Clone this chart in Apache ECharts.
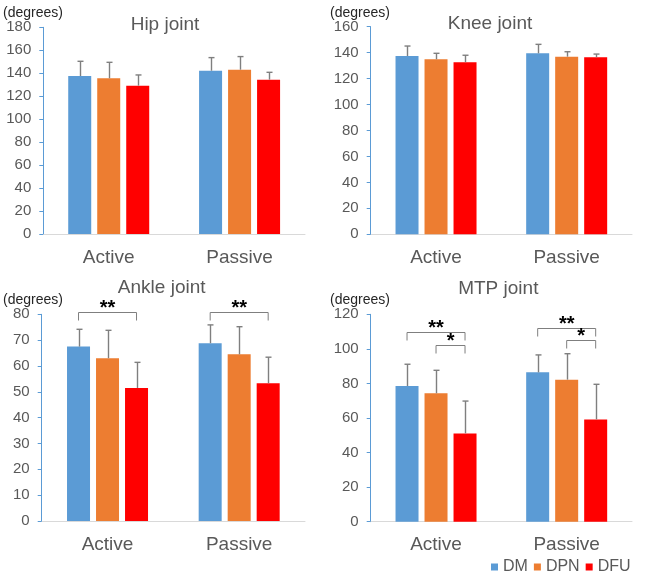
<!DOCTYPE html>
<html><head><meta charset="utf-8">
<script src="https://cdn.jsdelivr.net/npm/echarts@6/dist/echarts.min.js"></script>
<style>html,body{margin:0;padding:0;background:#fff}#c{width:645px;height:577px}</style>
</head><body><div id="c"></div>
<script>
// ---------- data ----------
const categories = ['Active', 'Passive'];
const groups = ['DM', 'DPN', 'DFU'];
const panelTitles = ['Hip joint', 'Knee joint', 'Ankle joint', 'MTP joint'];
const yUnit = '(degrees)';
const yMax = [180, 160, 80, 120];
const yStep = [20, 20, 10, 20];

// means [Active, Passive] per group
const hipDM = [137.6, 142.2], hipDPN = [135.6, 143.1], hipDFU = [129.2, 134.4];
const hipSD_DM = [12.8, 11.4], hipSD_DPN = [13.9, 11.4], hipSD_DFU = [9.3, 6.4];

const kneeDM = [137.4, 139.5], kneeDPN = [134.9, 136.9], kneeDFU = [132.6, 136.4];
const kneeSD_DM = [7.7, 6.9], kneeSD_DPN = [4.6, 3.8], kneeSD_DFU = [5.4, 2.5];

const ankleDM = [67.5, 68.8], ankleDPN = [63.0, 64.5], ankleDFU = [51.5, 53.3];
const ankleSD_DM = [6.7, 7.1], ankleSD_DPN = [10.8, 10.7], ankleSD_DFU = [9.9, 10.1];

const mtpDM = [78.5, 86.4], mtpDPN = [74.3, 82.2], mtpDFU = [51.1, 59.2];
const mtpSD_DM = [12.6, 10.1], mtpSD_DPN = [13.3, 15.0], mtpSD_DFU = [18.7, 20.3];

// significance brackets: [category, fromGroup, toGroup, level]
const hipSig = [];
const kneeSig = [];
const ankleSig = [[0, 0, 2, 80.8], [1, 0, 2, 80.8]];
const ankleSigMarks = ['**', '**'];
const mtpSig = [[0, 0, 2, 109.6], [0, 1, 2, 102.4], [1, 0, 2, 112.1], [1, 1, 2, 105.0]];
const mtpSigMarks = ['**', '*', '**', '*'];

// ---------- styling ----------
const colors = ['#5b9bd5', '#ed7d31', '#ff0000'];
const FONT = 'Liberation Sans, Arial, sans-serif';
const BAR_W = 23, BAR_GAP = 6, STEP = BAR_W + BAR_GAP;
const grids = [
  {left: 43.3, right: 340, top: 27.3, bottom: 343},
  {left: 370.7, right: 13, top: 26.7, bottom: 342.7},
  {left: 41.7, right: 340, top: 314.3, bottom: 56},
  {left: 370.7, right: 13, top: 314.3, bottom: 55.3}
];
const panels = [
  {means: [hipDM, hipDPN, hipDFU], sds: [hipSD_DM, hipSD_DPN, hipSD_DFU], sig: hipSig, marks: []},
  {means: [kneeDM, kneeDPN, kneeDFU], sds: [kneeSD_DM, kneeSD_DPN, kneeSD_DFU], sig: kneeSig, marks: []},
  {means: [ankleDM, ankleDPN, ankleDFU], sds: [ankleSD_DM, ankleSD_DPN, ankleSD_DFU], sig: ankleSig, marks: ankleSigMarks},
  {means: [mtpDM, mtpDPN, mtpDFU], sds: [mtpSD_DM, mtpSD_DPN, mtpSD_DFU], sig: mtpSig, marks: mtpSigMarks}
];
const titlePos = [[165, 25], [490, 23.5], [161.7, 287.7], [498.3, 288.3]];
const unitPos = [[3, 13], [330, 13.3], [3, 300], [330, 300]];

function renderErr(params, api) {
  const c = api.value(0), g = api.value(1);
  const base = api.coord([c, api.value(2)]);
  const top = api.coord([c, api.value(3)]);
  const x = Math.round(base[0] + (g - 1) * STEP) + 0.5;
  const st = {stroke: '#7f7f7f', lineWidth: 1.4};
  return {type: 'group', children: [
    {type: 'line', shape: {x1: x, y1: base[1], x2: x, y2: top[1]}, style: st},
    {type: 'line', shape: {x1: x - 3, y1: top[1], x2: x + 3, y2: top[1]}, style: st}
  ]};
}
function makeBracketRenderer(marks) {
  return function (params, api) {
    const c = api.value(0);
    const p = api.coord([c, api.value(3)]);
    const x1 = p[0] + (api.value(1) - 1) * STEP;
    const x2 = p[0] + (api.value(2) - 1) * STEP;
    const y = Math.round(p[1]) + 0.5;
    return {type: 'group', children: [
      {type: 'polyline', shape: {points: [[x1, y + 8], [x1, y], [x2, y], [x2, y + 8]]},
        style: {stroke: '#7f7f7f', lineWidth: 1, fill: null}},
      {type: 'text', x: (x1 + x2) / 2, y: y + 6,
        style: {text: marks[params.dataIndex], fill: '#000', font: 'bold 20px ' + FONT,
          align: 'center', verticalAlign: 'bottom'}}
    ]};
  };
}

const option = {
  animation: false,
  textStyle: {fontFamily: FONT},
  color: colors,
  grid: grids,
  legend: {
    data: groups, left: 491, top: 559, icon: 'rect', itemWidth: 7, itemHeight: 7, itemGap: 6,
    padding: 0, textStyle: {fontSize: 16, color: '#595959', fontFamily: FONT}
  },
  xAxis: grids.map((g, i) => ({
    type: 'category', gridIndex: i, data: categories,
    axisLine: {lineStyle: {color: '#d9d9d9', width: 1}},
    axisTick: {show: false},
    axisLabel: {fontSize: 19, color: '#595959', margin: 14}
  })),
  yAxis: grids.map((g, i) => ({
    type: 'value', gridIndex: i, min: 0, max: yMax[i], interval: yStep[i],
    axisLine: {show: true, lineStyle: {color: '#5b9bd5', width: 1}},
    axisTick: {show: true, length: 4, lineStyle: {color: '#5b9bd5'}},
    splitLine: {show: false},
    axisLabel: {fontSize: 15, color: '#595959', margin: 12}
  })),
  graphic: [],
  series: []
};

panels.forEach((p, i) => {
  groups.forEach((gname, g) => {
    option.series.push({
      type: 'bar', name: gname, xAxisIndex: i, yAxisIndex: i,
      data: p.means[g], barWidth: BAR_W, barGap: (BAR_GAP / BAR_W * 100).toFixed(1) + '%',
      itemStyle: {color: colors[g]}
    });
  });
  const errData = [];
  groups.forEach((gname, g) => {
    categories.forEach((cat, c) => {
      errData.push([c, g, p.means[g][c], p.means[g][c] + p.sds[g][c]]);
    });
  });
  option.series.push({
    type: 'custom', xAxisIndex: i, yAxisIndex: i, data: errData, renderItem: renderErr,
    encode: {x: 0, y: [2, 3]}, z: 5, silent: true
  });
  if (p.sig.length) {
    option.series.push({
      type: 'custom', xAxisIndex: i, yAxisIndex: i, data: p.sig, renderItem: makeBracketRenderer(p.marks),
      encode: {x: 0, y: 3}, z: 5, silent: true, clip: false
    });
  }
  option.graphic.push({
    type: 'text', x: titlePos[i][0], y: titlePos[i][1],
    style: {text: panelTitles[i], fill: '#595959', font: '19px ' + FONT, align: 'center', verticalAlign: 'middle'}
  });
  option.graphic.push({
    type: 'text', x: unitPos[i][0], y: unitPos[i][1],
    style: {text: yUnit, fill: '#262626', font: '14px ' + FONT, align: 'left', verticalAlign: 'middle'}
  });
});

const chart = echarts.init(document.getElementById('c'), null, {renderer: 'canvas'});
chart.setOption(option);
</script>
</body></html>
